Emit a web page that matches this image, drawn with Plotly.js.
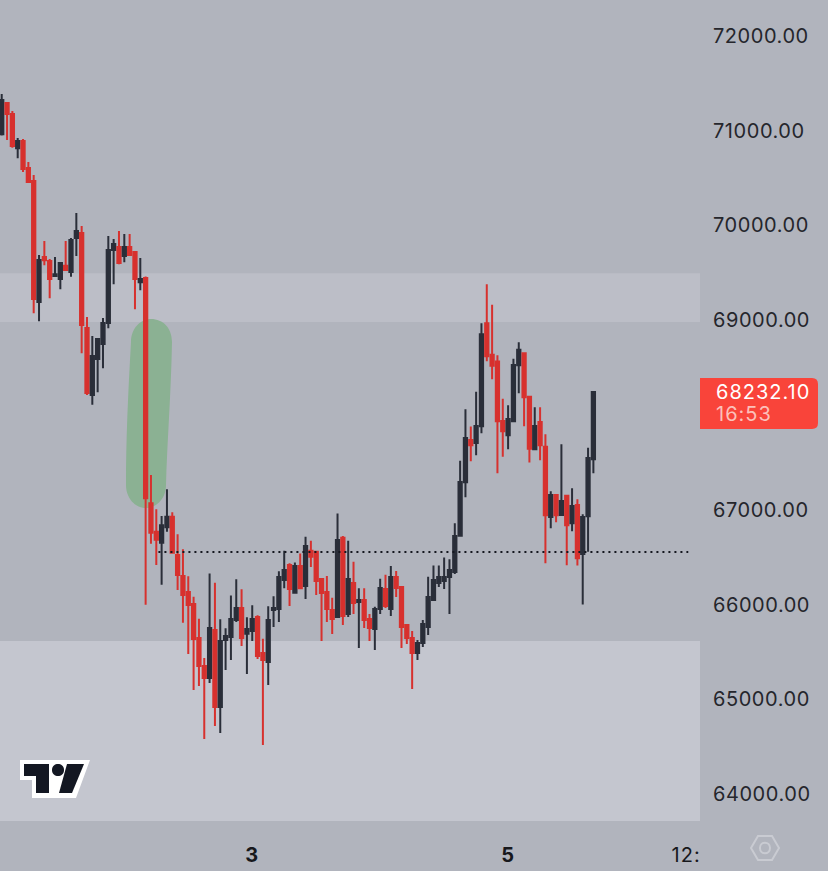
<!DOCTYPE html>
<html><head><meta charset="utf-8">
<script src="https://cdn.plot.ly/plotly-3.0.1.min.js"></script>
<style>html,body{margin:0;padding:0;background:#b1b4bd}
.ytick text{letter-spacing:.55px}
.xtick text{letter-spacing:1px}
.annotation-text{letter-spacing:1px}</style>
</head><body><div id="chart" style="width:828px;height:871px"></div>
<script>
const opens=[70952,71282,71166,70804,70881,70596,70459,69182,69657,69615,69456,69425,69565,69499,69857,69910,68908,68201,68580,68739,68960,69731,69763,69667,69763,69710,69390,69435,
67057,66758,66642,66804,66916,66512,66290,66121,65995,65636,65340,65214,65720,64908,65615,65646,65826,65952,65682,65710,65858,65478,65383,65931,65942,
66248,66406,66114,66395,66184,66557,66547,66258,66121,65931,65857,66694,65889,66216,66015,66037,65836,65731,65942,66153,65942,66279,66174,65773,65636,65477,65583,65752,66037,66216,66237,66279,66332,
66716,67279,67726,67694,67870,68957,68626,68553,67926,67775,67923,68514,68641,68183,67627,67916,67655,66913,67145,66934,67138,66846,67040,66523,66920,67522];
const highs=[71377,71282,71198,70913,70902,70660,70522,69678,69826,69636,69657,69594,69826,69857,70121,69984,69024,68823,68791,69013,69879,69847,69931,69900,69900,69710,69646,69450,
67356,66994,66924,67205,66962,66730,66572,66287,66072,65840,65425,66318,66220,65833,65738,66086,66255,66150,65854,65981,65875,65629,65970,66076,66340,
66557,66424,66434,66529,66705,66663,66547,66258,66290,66061,66951,66712,66663,66441,66160,66160,65889,65966,66262,66304,66395,66343,66177,65773,65709,65614,65825,66283,66402,66402,66487,66466,66846,
67508,68049,67867,68236,68957,69369,69154,68619,68162,68092,68584,68757,68651,68187,68071,68071,67786,67184,67145,67680,67138,67216,67100,66941,67645,68236];
const lows=[70938,70892,70811,70698,70554,70448,69062,68978,69569,69221,69456,69316,69509,69449,69667,68640,68201,68098,68229,68482,68904,69368,69580,69601,69678,69105,69305,65988,
66632,66406,66199,66758,66537,66143,65798,65467,65087,65129,64570,65161,64707,64633,65298,65404,65805,65551,65256,65604,65414,64507,65140,65752,65805,
66160,65973,66114,66153,66047,66385,66089,65604,65804,65678,65857,65773,65857,65889,65530,65741,65604,65509,65889,65952,65868,66068,65530,65572,65097,65403,65541,65667,66026,66174,66153,65889,66311,
66706,67121,67501,67564,67796,68556,68366,67374,67550,67627,67923,68218,67870,67487,67617,67511,66424,66794,66857,66927,66403,66762,66400,65991,66547,67374];
const closes=[71314,71166,70828,70881,70586,70448,69214,69625,69622,69425,69474,69594,69520,69836,69931,68939,68222,68612,68791,68960,69731,69794,69594,69763,69678,69425,69425,67110,
66748,66674,66825,66916,66537,66301,66090,65984,65625,65340,65214,65741,64908,65604,65657,65836,65952,65636,65731,65836,65446,65404,65826,65952,66280,
66353,66153,66395,66160,66607,66494,66237,66110,65942,65836,66670,65868,66258,66005,66037,65826,65741,65942,66163,65973,66279,66163,65752,65636,65477,65583,65783,66068,66248,66279,66279,66353,66712,
67283,67747,67670,67874,68841,68609,68510,67923,67817,67947,68517,68679,68176,67634,67874,67670,66931,67145,66931,67082,66825,67029,66477,66913,67536,68232];
const candleIndex=opens.map((_,i)=>i);
const priceTicks=[64000,65000,66000,67000,69000,70000,71000,72000];
const priceTickLabels=["64000.00","65000.00","66000.00","67000.00","69000.00","70000.00","71000.00","72000.00"];
const timeTicks=[47,95,128.4];
const timeTickLabels=["<b>3</b>","<b>5</b>","12:"];
const upperBand=[68970,69485];
const lowerBand=[63705,65605];
const dottedLevel=66544;
const lastPrice="68232.10";
const countdown="16:53";

const W=700,H=821;
const P=s=>s.replace(/(-?[\d.]+),(-?[\d.]+)/g,(m,a,b)=>(a/W).toFixed(5)+','+(1-b/H).toFixed(5));
const paperShape=(path,fill,line,lw,layer)=>({type:'path',xref:'paper',yref:'paper',path:P(path),fillcolor:fill,line:{color:line||'rgba(0,0,0,0)',width:lw||0},layer:layer||'above'});

const shapes=[
 {type:'rect',xref:'paper',yref:'y',x0:0,x1:1,y0:upperBand[0],y1:upperBand[1],fillcolor:'#bcbec7',line:{width:0},layer:'below'},
 {type:'rect',xref:'paper',yref:'y',x0:0,x1:1,y0:lowerBand[0],y1:lowerBand[1],fillcolor:'#c4c6cf',line:{width:0},layer:'below'},
 paperShape('M131,342 C131,328 141,319 151,319 C163,319 172,328 172,342 C171,395 167,445 166,485 C166,500 155,508 146,508 C135,508 126,498 126,485 C126,440 128,395 131,342 Z','#8bb193',null,0,'below'),
 {type:'line',xref:'x',yref:'y',x0:29.4,x1:128.8,y0:dottedLevel,y1:dottedLevel,line:{color:'#15171f',width:2,dash:'2px,4px'},layer:'above'},
 paperShape('M700,378 L812,378 Q818,378 818,384 L818,423 Q818,429 812,429 L700,429 Z','#f9443a'),
 paperShape('M20,760 L90,760 L76,798 L32,798 L32,780 L20,780 Z','#ffffff'),
 paperShape('M24,764 L49,764 L49,793 L36,793 L36,776 L24,776 Z','#131722'),
 paperShape('M67,764 L84,764 L72,793 L59,793 Z','#131722'),
 paperShape('M64,770 C64,778 52,778 52,770 C52,762 64,762 64,770 Z','#131722'),
 paperShape('M751,848 L758,836 L772,836 L779,848 L772,860 L758,860 Z','rgba(0,0,0,0)','#c9cbd2',2),
 paperShape('M770,848 C770,855 760,855 760,848 C760,841 770,841 770,848 Z','rgba(0,0,0,0)','#c9cbd2',2)
];

const trace={type:'candlestick',x:candleIndex,open:opens,high:highs,low:lows,close:closes,
 increasing:{line:{color:'#2a2e39',width:2},fillcolor:'#2a2e39'},
 decreasing:{line:{color:'#d7312e',width:2},fillcolor:'#d7312e'},
 whiskerwidth:0,hoverinfo:'skip',showlegend:false};

const layout={width:828,height:871,margin:{l:0,r:128,t:0,b:50,pad:0},boxgap:0.12,
 paper_bgcolor:'#b1b4bd',plot_bgcolor:'rgba(0,0,0,0)',showlegend:false,shapes:shapes,
 font:{family:'Inter, sans-serif',color:'#17181c',size:20},
 xaxis:{range:[-0.32,131.0],rangeslider:{visible:false},showgrid:false,zeroline:false,showline:false,
  tickmode:'array',tickvals:timeTicks,ticktext:timeTickLabels,ticks:'outside',ticklen:16,tickcolor:'rgba(0,0,0,0)',
  tickfont:{family:'Inter, sans-serif',size:20,color:'#17181c'},tickangle:0},
 yaxis:{range:[63705,72369],side:'right',showgrid:false,zeroline:false,showline:false,ticklabelshift:1,
  tickmode:'array',tickvals:priceTicks,ticktext:priceTickLabels,ticks:'outside',ticklen:8,tickcolor:'rgba(0,0,0,0)',
  tickfont:{family:'Inter, sans-serif',size:20,color:'#25262c'}},
 annotations:[
  {xref:'paper',yref:'paper',x:714/W,y:1-392/H,xanchor:'left',yanchor:'middle',showarrow:false,text:lastPrice,font:{family:'Inter, sans-serif',size:20,color:'#ffffff'}},
  {xref:'paper',yref:'paper',x:714/W,y:1-414/H,xanchor:'left',yanchor:'middle',showarrow:false,text:countdown,font:{family:'Inter, sans-serif',size:20,color:'#fcc0ba'}}
 ]};
Plotly.newPlot('chart',[trace],layout,{displayModeBar:false,staticPlot:true});
</script></body></html>
